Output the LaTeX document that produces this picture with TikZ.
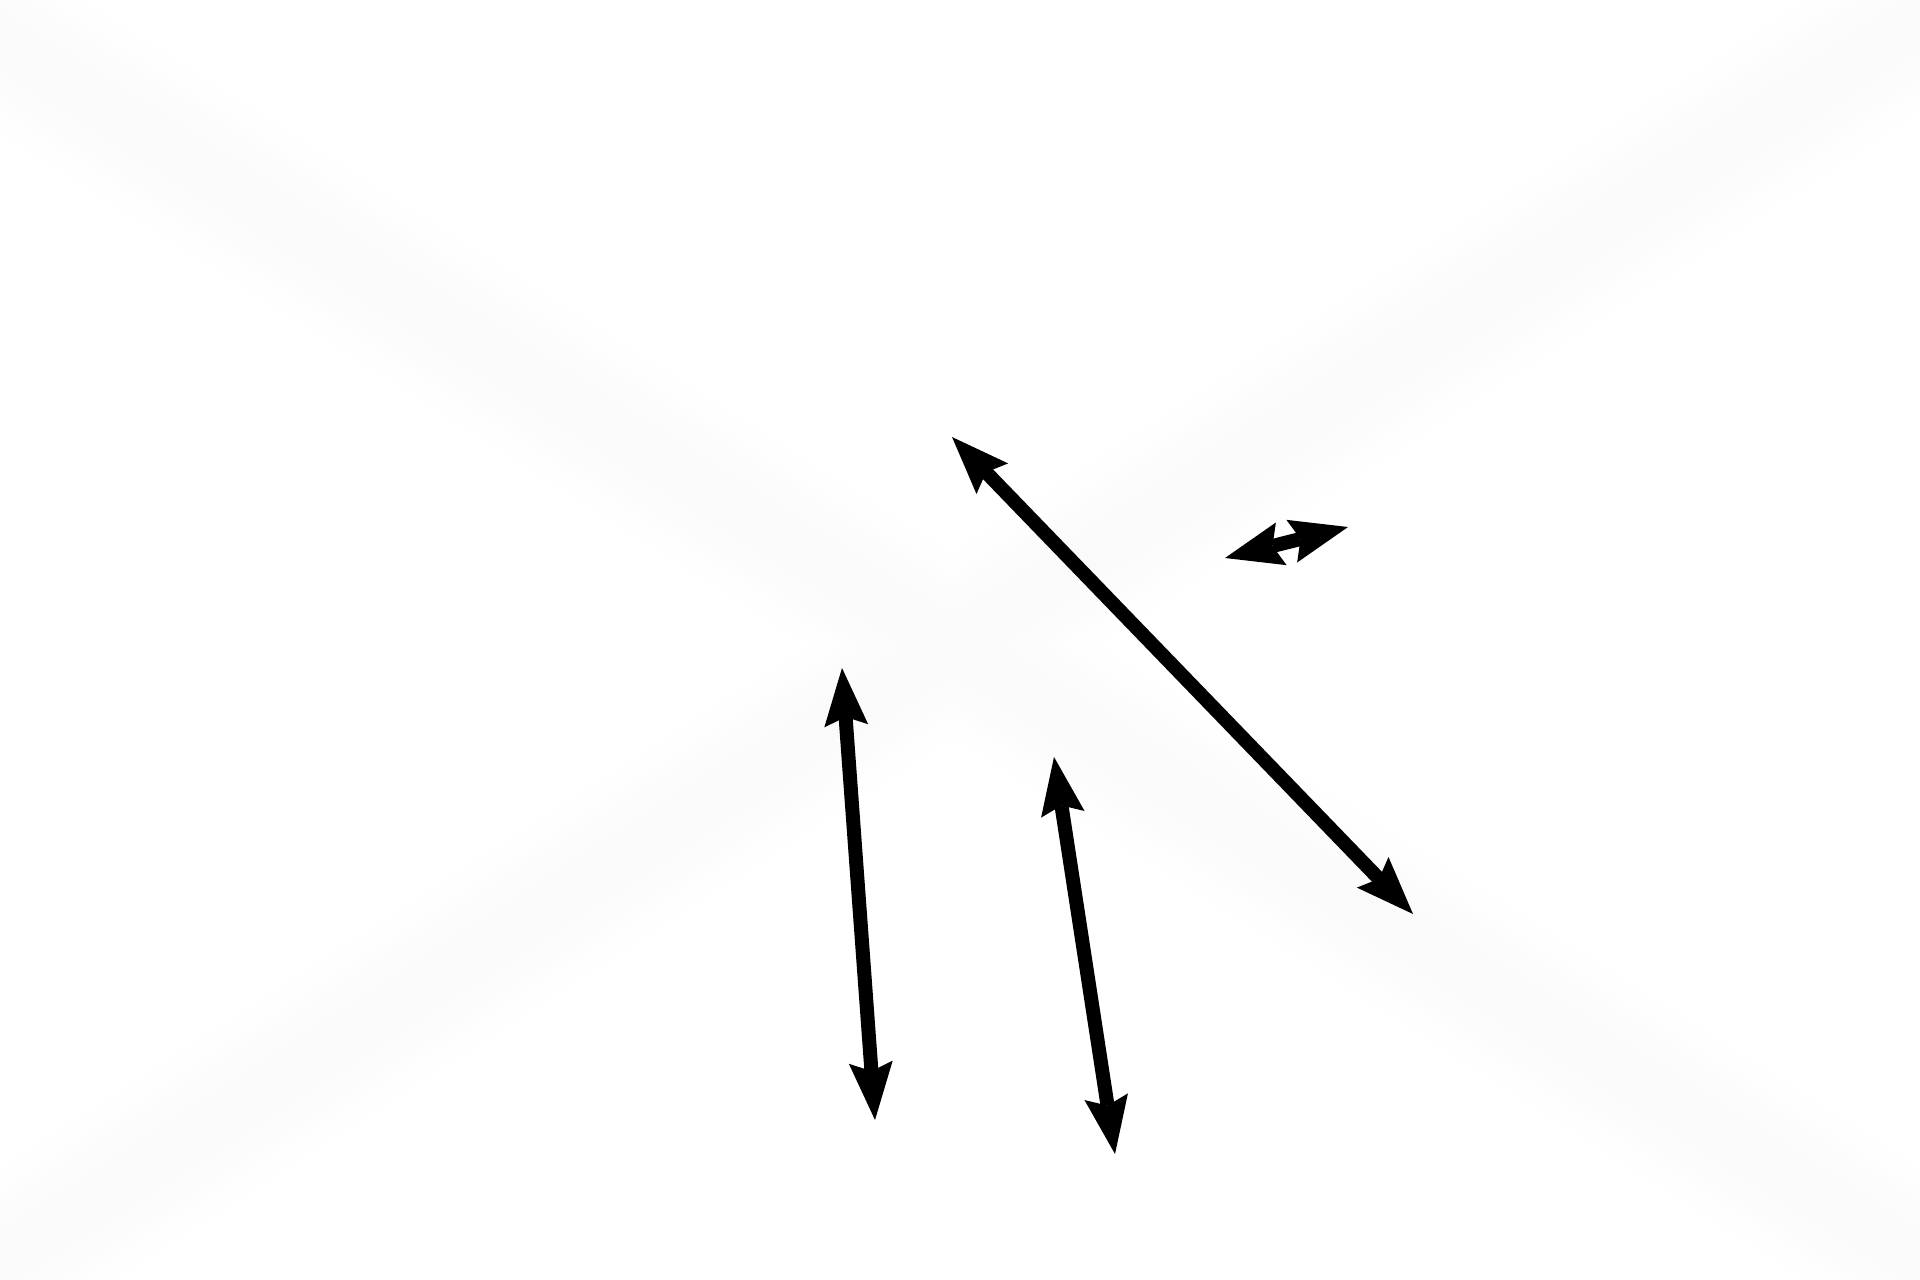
\documentclass[tikz,border=0pt]{standalone}
\usepackage{tikz}
\usetikzlibrary{arrows.meta}
\usepackage{xcolor}

\tikzset{
  fatarrow/.style={line width=14pt,
    {Stealth[length=58pt,width=44pt,inset=9pt,line width=0pt]}-{Stealth[length=58pt,width=44pt,inset=9pt,line width=0pt]}},
}

\begin{document}
\begin{tikzpicture}[x=1pt,y=-1pt]
  \useasboundingbox (0,0) rectangle (1920,1280);
  \fill[white] (0,0) rectangle (1920,1280);
  \clip (0,0) rectangle (1920,1280);
% faint cross in the back
  \foreach \i in {1,...,8}{
    \pgfmathsetmacro{\w}{170-18*\i}
    \pgfmathsetmacro{\c}{0.25*\i}
    \draw[line width=\w pt,black!\c] (-40,15) -- (1960,1285);
    \draw[line width=\w pt,black!\c] (-40,1287) -- (1960,-6);
  }
% end points
  \coordinate (ltop) at (952,437);
  \coordinate (lbot) at (1413,914);
  \coordinate (sleft) at (1225,558);
  \coordinate (sright) at (1348,527);
  \coordinate (atop) at (842,668);
  \coordinate (abot) at (875,1120);
  \coordinate (btop) at (1054,757);
  \coordinate (bbot) at (1115,1154);
% arrows
  \draw[fatarrow] (ltop) -- (lbot);
  \draw[fatarrow] (sleft) -- (sright);
  \draw[fatarrow] (atop) -- (abot);
  \draw[fatarrow] (btop) -- (bbot);
\end{tikzpicture}
\end{document}
